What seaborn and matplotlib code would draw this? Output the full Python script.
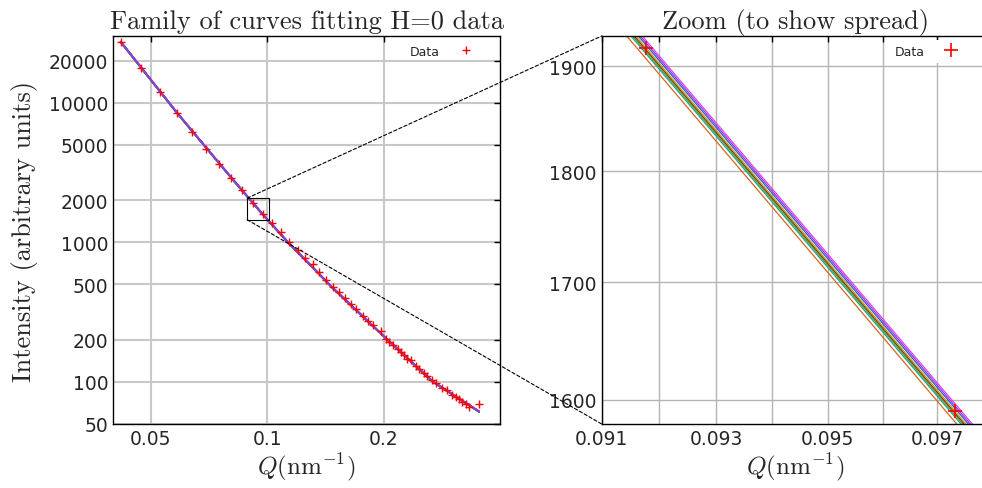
import matplotlib
matplotlib.use("Agg")
import matplotlib.pyplot as plt
import seaborn as sns
from matplotlib.lines import Line2D
from matplotlib.patches import Rectangle, ConnectionPatch
from matplotlib.ticker import NullLocator

# measured data (Q in nm^-1, intensity in arbitrary units)
q_data = [0.0418, 0.0473, 0.0527, 0.0585, 0.0640, 0.0696, 0.0750, 0.0808, 0.0862,
          0.09177, 0.09732, 0.1030, 0.1087, 0.1142, 0.1200, 0.1253, 0.1311, 0.1365,
          0.1420, 0.1477, 0.1530, 0.1592, 0.1647, 0.1698, 0.1765, 0.1818, 0.1873,
          0.1969, 0.2029, 0.2068, 0.2110, 0.2173, 0.2217, 0.2261, 0.2305, 0.2353,
          0.2424, 0.2472, 0.2546, 0.2597, 0.2675, 0.2729, 0.2839, 0.2924, 0.3013,
          0.3074, 0.3134, 0.3197, 0.3262, 0.3326, 0.3532]
i_data = [27100, 17580, 11910, 8385, 6166, 4692, 3625, 2880, 2352,
          1918, 1591, 1367, 1179, 1000, 885, 769, 700, 611,
          541, 477, 439, 398, 361, 334, 296, 275, 254,
          230, 204, 193, 183, 173, 164, 155, 147, 143,
          130, 124, 115, 111, 103, 99, 90.5, 87, 80,
          78, 76, 72, 70, 66, 69]

# fitted curve (lowest member of the family)
q_fit = [0.0418, 0.0585, 0.0808, 0.0905, 0.0985, 0.113, 0.1477, 0.2029, 0.268, 0.3532]
i_fit = [27100, 8385, 2880, 1994.2, 1522.2, 1000, 469, 204, 100, 61]

# relative offsets of each family member
curve_scale = [1.0, 1.0026, 1.0036, 1.0046, 1.0056, 1.0071, 1.0083, 1.0095]
curve_colors = ["#d9641e", "#1fa08e", "#3fae3f", "#8a2a10", "#b9a206",
                "#2f56d4", "#8a3fd6", "#e33cff"]
# order in which the main panel draws them (blue/purple end up on top)
main_order = [0, 1, 2, 3, 4, 7, 5, 6]

# zoom box drawn on the main panel
box_q = [0.0888, 0.1009]
box_i = [1450, 2072]

sns.set_style("white")
plt.rcParams["mathtext.fontset"] = "cm"
plt.rcParams["font.family"] = ["DejaVu Sans"]
plt.rcParams["xtick.direction"] = "in"
plt.rcParams["ytick.direction"] = "in"

fig = plt.figure(figsize=(9.82, 4.89), dpi=100)
ax1 = fig.add_axes([113.3 / 982, 64 / 489, 386.7 / 982, 388 / 489])
ax2 = fig.add_axes([601.7 / 982, 64 / 489, 387.0 / 982, 388 / 489])

for ax in (ax1, ax2):
    ax.set_xscale("log")
    ax.set_yscale("log")

# family of fitted curves
for k in main_order:
    sns.lineplot(x=q_fit, y=[v * curve_scale[k] for v in i_fit], ax=ax1,
                 color=curve_colors[k], lw=1.3, estimator=None, sort=False, legend=False)
for sc, col in zip(curve_scale, curve_colors):
    sns.lineplot(x=q_fit, y=[v * sc for v in i_fit], ax=ax2, color=col, lw=0.9,
                 estimator=None, sort=False, legend=False)

sns.scatterplot(x=q_data, y=i_data, ax=ax1, marker="+", s=36, color="red",
                linewidth=1.0, legend=False, zorder=5)
sns.scatterplot(x=q_data, y=i_data, ax=ax2, marker="+", s=110, color="red",
                linewidth=1.2, legend=False, zorder=5)

# main panel axes
ax1.set_xlim(0.04, 0.4)
ax1.set_ylim(50, 30000)
ax1.set_xticks([0.05, 0.1, 0.2])
ax1.set_xticklabels(["0.05", "0.1", "0.2"])
ax1.set_yticks([50, 100, 200, 500, 1000, 2000, 5000, 10000, 20000])
ax1.set_yticklabels(["50", "100", "200", "500", "1000", "2000", "5000", "10000", "20000"])
ax1.grid(True, color="#c8c8c8", lw=1.5)

# zoom panel axes
ax2.set_xlim(0.091, 0.09795)
ax2.set_ylim(1580, 1930)
ax2.set_xticks([0.091, 0.092, 0.093, 0.094, 0.095, 0.096, 0.097])
ax2.set_xticklabels(["0.091", "", "0.093", "", "0.095", "", "0.097"])
ax2.set_yticks([1600, 1700, 1800, 1900])
ax2.set_yticklabels(["1600", "1700", "1800", "1900"])
ax2.grid(True, color="#b4b4b4", lw=1.0)

for ax in (ax1, ax2):
    ax.xaxis.set_minor_locator(NullLocator())
    ax.yaxis.set_minor_locator(NullLocator())
    ax.tick_params(which="both", top=True, right=True, length=4.5, width=1,
                   labelsize=13.5, color="black")
    for sp in ax.spines.values():
        sp.set_color("black")
        sp.set_linewidth(1.0)

serif = dict(family="cmr10", fontsize=19)
ax1.set_title("Family of curves fitting H=0 data", pad=6, **serif)
ax2.set_title("Zoom (to show spread)", pad=6, **serif)
ax1.set_ylabel("Intensity (arbitrary units)", labelpad=8, **serif)
ax1.set_xlabel(r"$Q(\mathrm{nm}^{-1})$", fontsize=18, labelpad=2)
ax2.set_xlabel(r"$Q(\mathrm{nm}^{-1})$", fontsize=18, labelpad=2)

# legends
h1 = Line2D([], [], ls="none", marker="+", color="red", ms=6, mew=1.0, label="Data")
ax1.legend(handles=[h1], loc="upper right", bbox_to_anchor=(0.976, 1.0),
           markerfirst=False, frameon=False, fontsize=9, handlelength=2.6,
           borderaxespad=0.3)
h2 = Line2D([], [], ls="none", marker="+", color="red", ms=10.5, mew=1.2, label="Data")
ax2.legend(handles=[h2], loc="upper right", bbox_to_anchor=(0.968, 1.0),
           markerfirst=False, frameon=True, fontsize=9, handlelength=2.6,
           borderaxespad=0.3, fancybox=False, facecolor="white",
           edgecolor="none", framealpha=1)

# zoom box and connectors
ax1.add_patch(Rectangle((box_q[0], box_i[0]), box_q[1] - box_q[0], box_i[1] - box_i[0],
                        fill=False, ec="black", lw=0.8, zorder=6))
for yi, yf in ((box_i[1], 1), (box_i[0], 0)):
    con = ConnectionPatch(xyA=(box_q[0], yi), coordsA=ax1.transData,
                          xyB=(0, yf), coordsB=ax2.transAxes,
                          ls=(0, (3, 2)), lw=0.8, color="black")
    fig.add_artist(con)

fig.savefig("out.png", dpi=100)
